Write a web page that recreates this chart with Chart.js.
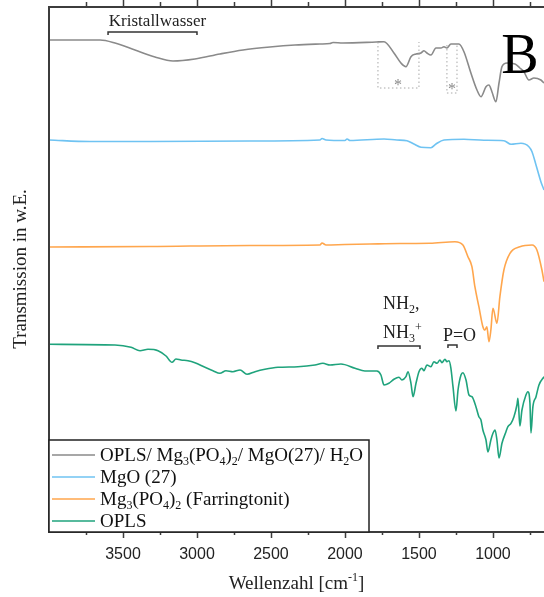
<!DOCTYPE html>
<html>
<head>
<meta charset="utf-8">
<script src="https://cdn.jsdelivr.net/npm/chart.js@4/dist/chart.umd.min.js"></script>
<style>
html, body { margin: 0; padding: 0; background: #fff; }
</style>
</head>
<body>
<canvas id="irChart" width="544" height="597"></canvas>
<script>
// ATR-IR spectra, stacked with vertical offsets (transmission, arb. units)
const wnMix = [4000,3655,3554,3419,3284,3162,3014,2845,2689,2507,2338,2169,2101,2081,2014,1790,1736,1669,1622,1588,1554,1520,1486,1466,1446,1419,1385,1351,1331,1311,1284,1230,1196,1149,1108,1081,1047,1027,1007,980,959,939,905,851,818,791,757,723,676,655];
const tMix = [492,492,489,482,475,471,473,478,482,485,487,488,488.5,489.5,489,490,490.3,479,469,465.3,475.3,478,479,481.3,479,477,484,484,485.3,484,488,488,480.3,459,442,435.3,445.3,447,440.3,430.3,449,465.3,469,468,464,460.3,452,454,452,449];

const wnMgO = [4000,3723,3318,2642,2169,2155,2128,2000,1986,1966,1736,1649,1581,1534,1486,1419,1385,1331,1196,1061,926,878,811,757,736,709,676,655];
const tMgO = [392,390.5,390.5,391,392,393.5,392,391.5,393,391.5,393,392,391.3,388,384.7,384.3,388,392,392.7,391.7,391.3,387.7,388.7,385.3,380.3,367,350.3,342];

const wnMgP = [4000,3318,2642,2169,2155,2128,2000,1831,1628,1426,1257,1203,1169,1142,1122,1095,1068,1054,1041,1027,1014,1000,973,953,926,885,818,736,703,669,655];
const tMgP = [285,285.5,286.5,287,289,287,287.5,288,288.5,288.7,290.3,287,275.3,265.3,245.3,225.3,205.3,202,205.3,190.3,202,223.7,208.7,235.3,262,278.7,285.3,287,282,262,250.3];

const wnOPLS = [4000,3554,3446,3385,3331,3263,3209,3169,3142,3108,3061,3014,2946,2892,2845,2804,2757,2709,2662,2608,2541,2453,2318,2203,2149,2101,2027,1932,1865,1784,1757,1736,1703,1669,1635,1615,1588,1574,1554,1540,1520,1500,1480,1466,1446,1419,1399,1378,1358,1345,1324,1311,1297,1284,1270,1250,1236,1216,1203,1182,1162,1142,1115,1095,1081,1068,1047,1034,1014,1000,986,973,959,939,912,899,878,858,838,831,818,804,777,764,750,743,730,709,689,655];
const tOPLS = [187.7,187,184.7,181.3,182.7,181.3,176,169.7,173,172,171.3,169.3,164.7,161.3,158.7,161.3,160.3,162,157.7,160.3,162.7,164.7,165.3,167,168.7,167,168,163.7,161,161,157,147,148.7,152.7,154.7,152,155.3,160.3,148.7,135.3,148.7,160.3,163.7,161.3,167,165.3,170.3,168.7,172,169.3,172.7,170.3,171.3,163.7,145.3,121,142,157,159.3,152,137,135.3,125.3,115.3,112,102,92,80,92,98.7,102,92,74,88.7,100.3,105.3,108.7,115.3,127,133.7,106,122,137,140.3,129,99,125.3,135.3,147,155.3];

// legend names (_ = subscript, ^ = superscript)
const names = ['OPLS/ Mg_3(PO_4)_2/ MgO(27)/ H_2O', 'MgO (27)', 'Mg_3(PO_4)_2 (Farringtonit)', 'OPLS'];
const colors = ['#8a8a8a', '#6fc3f2', '#ffa64d', '#1fa37c'];
const majorTicks = [3500, 3000, 2500, 2000, 1500, 1000];
const minorTicks = [3750, 3250, 2750, 2250, 1750, 1250, 750];

const SERIF = '"Liberation Serif", "Times New Roman", serif';

function parseRich(s) {
  const parts = [];
  let i = 0;
  while (i < s.length) {
    const c = s[i];
    if (c === '_' || c === '^') {
      let t;
      if (s[i + 1] === '{') { const j = s.indexOf('}', i); t = s.slice(i + 2, j); i = j + 1; }
      else { t = s[i + 1]; i += 2; }
      parts.push([t, c === '_' ? 'sub' : 'sup']);
    } else {
      let j = i;
      while (j < s.length && s[j] !== '_' && s[j] !== '^') j++;
      parts.push([s.slice(i, j), 'n']);
      i = j;
    }
  }
  return parts;
}
const plain = s => parseRich(s).map(p => p[0]).join('');

function drawRich(ctx, s, x, y, size, align) {
  const parts = parseRich(s);
  const font = k => (k === 'n' ? size : Math.round(size * 0.65)) + 'px ' + SERIF;
  let w = 0;
  parts.forEach(([t, k]) => { ctx.font = font(k); w += ctx.measureText(t).width; });
  let cx = align === 'center' ? x - w / 2 : x;
  ctx.textAlign = 'left';
  ctx.textBaseline = 'alphabetic';
  parts.forEach(([t, k]) => {
    ctx.font = font(k);
    const dy = k === 'sub' ? size * 0.22 : (k === 'sup' ? -size * 0.4 : 0);
    ctx.fillText(t, cx, y + dy);
    cx += ctx.measureText(t).width;
  });
}

function bracket(ctx, x, y, wnA, wnB, t) {
  const xa = x.getPixelForValue(wnA), xb = x.getPixelForValue(wnB), py = y.getPixelForValue(t);
  ctx.beginPath();
  ctx.moveTo(xa, py + 3); ctx.lineTo(xa, py); ctx.lineTo(xb, py); ctx.lineTo(xb, py + 3);
  ctx.stroke();
}

function dottedBox(ctx, x, y, wnA, wnB, tA, tB) {
  const xa = x.getPixelForValue(wnA), xb = x.getPixelForValue(wnB);
  const ya = y.getPixelForValue(tA), yb = y.getPixelForValue(tB);
  ctx.save();
  ctx.setLineDash([1.5, 2.5]);
  ctx.strokeStyle = '#a8a8a8';
  ctx.lineWidth = 1;
  ctx.beginPath();
  ctx.moveTo(xa, ya); ctx.lineTo(xa, yb); ctx.lineTo(xb, yb); ctx.lineTo(xb, ya);
  ctx.stroke();
  ctx.restore();
}

const decor = {
  id: 'decor',
  afterDraw(chart) {
    const { ctx, chartArea: a, scales: { x, y } } = chart;
    ctx.save();

    // frame
    ctx.strokeStyle = '#3c3c3c';
    ctx.lineWidth = 2;
    ctx.beginPath();
    ctx.moveTo(a.right, a.top); ctx.lineTo(a.left, a.top);
    ctx.lineTo(a.left, a.bottom); ctx.lineTo(a.right, a.bottom);
    ctx.stroke();

    // tick marks, outward on top and bottom
    ctx.lineWidth = 1.5;
    const tick = (v, len) => {
      const px = Math.round(x.getPixelForValue(v)) + 0.5;
      ctx.beginPath();
      ctx.moveTo(px, a.bottom); ctx.lineTo(px, a.bottom + len);
      ctx.moveTo(px, a.top); ctx.lineTo(px, a.top - len - 2);
      ctx.stroke();
    };
    majorTicks.forEach(v => tick(v, 6));
    minorTicks.forEach(v => tick(v, 3));

    // band annotations
    ctx.fillStyle = '#222';
    ctx.strokeStyle = '#333';
    ctx.lineWidth = 1.5;
    drawRich(ctx, 'Kristallwasser', x.getPixelForValue(3267), y.getPixelForValue(506), 17, 'center');
    bracket(ctx, x, y, 3601, 3000, 500);
    drawRich(ctx, 'NH_2,', x.getPixelForValue(1743), y.getPixelForValue(223), 18, 'left');
    drawRich(ctx, 'NH_3^+', x.getPixelForValue(1743), y.getPixelForValue(194), 18, 'left');
    bracket(ctx, x, y, 1777, 1493, 186);
    drawRich(ctx, 'P=O', x.getPixelForValue(1338), y.getPixelForValue(191), 18, 'left');
    bracket(ctx, x, y, 1304, 1243, 187);

    dottedBox(ctx, x, y, 1777, 1500, 490, 444);
    dottedBox(ctx, x, y, 1311, 1243, 487, 439);
    ctx.fillStyle = '#8a8a8a';
    ctx.font = '16px ' + SERIF;
    ctx.textAlign = 'center';
    ctx.textBaseline = 'middle';
    ctx.fillText('*', x.getPixelForValue(1642), y.getPixelForValue(446));
    ctx.fillText('*', x.getPixelForValue(1277), y.getPixelForValue(442));

    // panel letter
    ctx.fillStyle = '#000';
    ctx.font = '56px ' + SERIF;
    ctx.textBaseline = 'alphabetic';
    ctx.fillText('B', x.getPixelForValue(817), y.getPixelForValue(459));

    // legend
    const lx = a.left, ly = 440, lw = 320, lh = a.bottom - ly;
    ctx.fillStyle = '#fff';
    ctx.fillRect(lx, ly, lw, lh);
    ctx.strokeStyle = '#222';
    ctx.lineWidth = 1.5;
    ctx.strokeRect(lx, ly, lw, lh);
    names.forEach((n, i) => {
      const cy = ly + 15 + i * 22;
      ctx.strokeStyle = colors[i];
      ctx.lineWidth = 1.6;
      ctx.beginPath();
      ctx.moveTo(lx + 3, cy); ctx.lineTo(lx + 46, cy);
      ctx.stroke();
      ctx.fillStyle = '#111';
      drawRich(ctx, n, lx + 51, cy + 6, 19, 'left');
    });

    // axis titles
    ctx.fillStyle = '#222';
    drawRich(ctx, 'Wellenzahl [cm^{-1}]', (a.left + a.right) / 2, 589, 19, 'center');
    ctx.translate(20, 269);
    ctx.rotate(-Math.PI / 2);
    drawRich(ctx, 'Transmission in w.E.', 0, 6, 19, 'center');
    ctx.restore();
  }
};

const series = [[wnMix, tMix], [wnMgO, tMgO], [wnMgP, tMgP], [wnOPLS, tOPLS]];

new Chart(document.getElementById('irChart'), {
  type: 'line',
  data: {
    datasets: series.map(([wn, t], i) => ({
      label: plain(names[i]),
      data: wn.map((v, k) => ({ x: v, y: t[k] })),
      borderColor: colors[i],
      borderWidth: 1.6,
      pointRadius: 0,
      fill: false,
      cubicInterpolationMode: 'monotone'
    }))
  },
  options: {
    responsive: false,
    animation: false,
    layout: { padding: { left: 49, top: 7, right: 0, bottom: 0 } },
    plugins: { legend: { display: false }, tooltip: { enabled: false } },
    scales: {
      x: {
        type: 'linear',
        reverse: true,
        min: 655,
        max: 4000,
        afterBuildTicks: s => { s.ticks = majorTicks.map(v => ({ value: v })); },
        afterFit: s => { s.height = 65; },
        grid: { display: false, drawTicks: false },
        border: { display: false },
        ticks: {
          padding: 13,
          color: '#222',
          autoSkip: false,
          maxRotation: 0,
          font: { family: 'Arial, "Liberation Sans", sans-serif', size: 16 },
          callback: v => String(v)
        }
      },
      y: { display: false, min: 0, max: 525 }
    }
  },
  plugins: [decor]
});
</script>
</body>
</html>
